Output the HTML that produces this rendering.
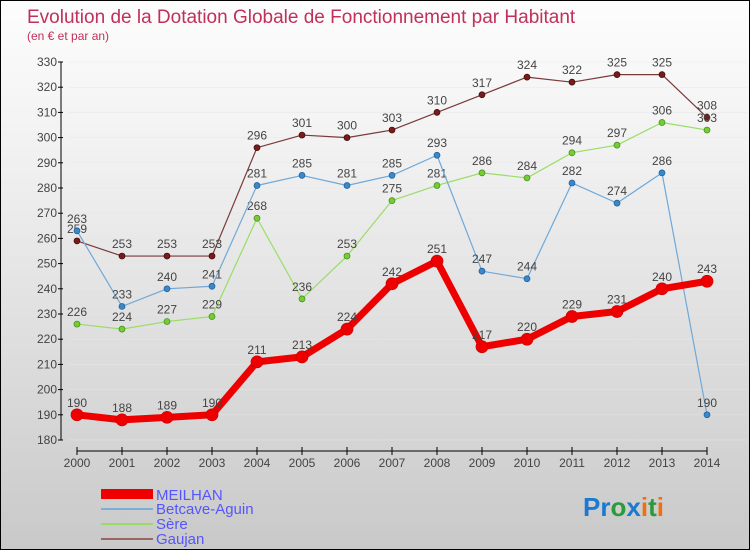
<!DOCTYPE html>
<html><head><meta charset="utf-8"><style>
body{margin:0;}
#wrap{width:748px;height:548px;border:1px solid #000;background:linear-gradient(#fdfdfd,#f0f0f0 30%,#c9c9c9);position:relative;overflow:hidden;font-family:"Liberation Sans",sans-serif;}
svg{position:absolute;left:0;top:0;}
</style></head><body>
<div id="wrap">
<svg id="c" width="750" height="550">
<text x="26" y="22" font-size="19" fill="#c0305a">Evolution de la Dotation Globale de Fonctionnement par Habitant</text>
<text x="26" y="39" font-size="12" fill="#c0305a">(en € et par an)</text>
<g id="axes"></g><g id="series"></g>
<g>
<rect x="100" y="488" width="52" height="10" fill="#e00"/>
<text x="155" y="499" font-size="15" fill="#55f">MEILHAN</text>
<rect x="100" y="507" width="52" height="2" fill="#7ab0d8"/>
<text x="155" y="513" font-size="15" fill="#55f">Betcave-Aguin</text>
<rect x="100" y="522" width="52" height="2" fill="#99dd66"/>
<text x="155" y="528" font-size="15" fill="#55f">Sère</text>
<rect x="100" y="537" width="52" height="2" fill="#996666"/>
<text x="155" y="543" font-size="15" fill="#55f">Gaujan</text>
</g>
<text x="582" y="515" font-size="26" font-weight="bold"><tspan fill="#1a7ad0">Pr</tspan><tspan fill="#2a9a3a">o</tspan><tspan fill="#1a7ad0">x</tspan><tspan fill="#f07010">i</tspan><tspan fill="#2a9a3a">t</tspan><tspan fill="#f07010">i</tspan></text>
</svg>
</div>
<script>
const years=[2000,2001,2002,2003,2004,2005,2006,2007,2008,2009,2010,2011,2012,2013,2014];
const yTicks=[180,190,200,210,220,230,240,250,260,270,280,290,300,310,320,330];
const meilhan=[190,188,189,190,211,213,224,242,251,217,220,229,231,240,243];
const betcave=[263,233,240,241,281,285,281,285,293,247,244,282,274,286,190];
const sere=[226,224,227,229,268,236,253,275,281,286,284,294,297,306,303];
const gaujan=[259,253,253,253,296,301,300,303,310,317,324,322,325,325,308];
const NS="http://www.w3.org/2000/svg";
const xs=i=>76+i*45;
const ys=v=>439-(v-180)*2.52;
function mk(t,a,p){const e=document.createElementNS(NS,t);for(const k in a)e.setAttribute(k,a[k]);p.appendChild(e);return e;}
const ax=document.getElementById('axes'),se=document.getElementById('series');
let e=mk('line',{x1:60,y1:ys(330),x2:60,y2:ys(180),stroke:'#000'},ax);

e=mk('line',{x1:76,y1:450,x2:706,y2:450,stroke:'#000'},ax);

yTicks.forEach(v=>{
 mk('line',{x1:57,y1:ys(v),x2:62,y2:ys(v),stroke:'#000'},ax);
 mk('line',{x1:68,y1:ys(v),x2:746,y2:ys(v),stroke:'#e6e6e6','stroke-width':0.5},ax);
 const t=mk('text',{x:56,y:ys(v)+4,'font-size':12,fill:'#444','text-anchor':'end'},ax);t.textContent=v;
 
});
years.forEach((y,i)=>{
 mk('line',{x1:xs(i),y1:446,x2:xs(i),y2:454,stroke:'#000'},ax);
 const t=mk('text',{x:xs(i),y:466,'font-size':12,fill:'#444','text-anchor':'middle'},ax);t.textContent=y;
 
});
function series(data,name,col,dot,w,r,lc){
 const g=mk('g',{},se);
 
 const l=mk('polyline',{points:data.map((v,i)=>xs(i)+','+ys(v)).join(' '),fill:'none',stroke:col,'stroke-width':w,'stroke-linejoin':'round'},g);
 
 data.forEach((v,i)=>{
  const c=mk('circle',{cx:xs(i),cy:ys(v),r:r,fill:dot,stroke:lc,'stroke-width':0.7},g);
  
  const t=mk('text',{x:xs(i),y:ys(v)-8,'font-size':12,fill:'#444','text-anchor':'middle'},g);t.textContent=v;
  
 });
}
series(gaujan,'gaujan','#7a3a3a','#7a1a1a',1.2,3,'#3a0a0a');
series(sere,'sere','#99dd66','#77cc33',1.2,3,'#3a8a1a');
series(betcave,'betcave','#6fa8d8','#3a88c8',1.2,3,'#1a5a9a');
series(meilhan,'meilhan','#ee0000','#ee0000',7,6,'#cc0000');
</script>
</body></html>
